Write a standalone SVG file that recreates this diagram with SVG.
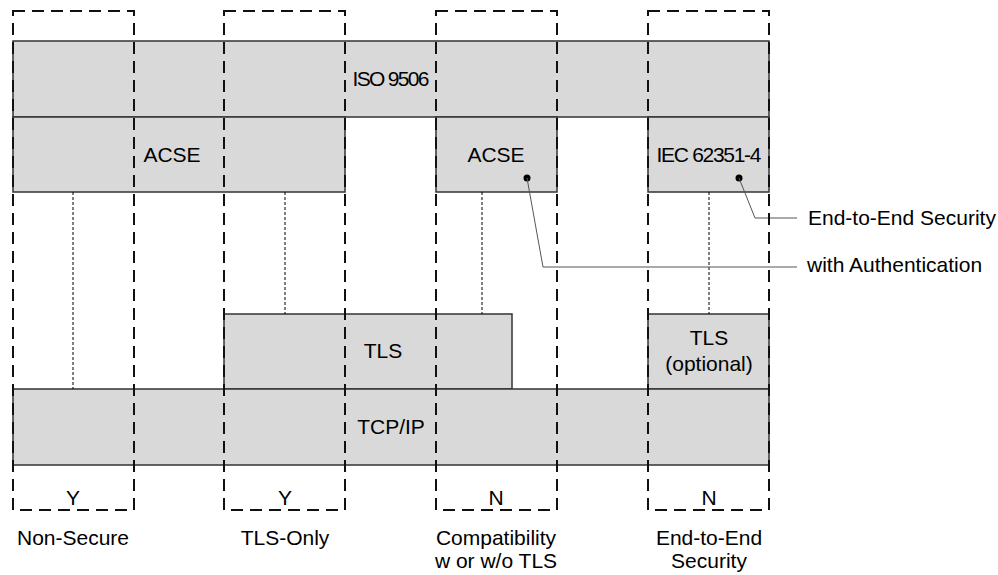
<svg xmlns="http://www.w3.org/2000/svg" width="998" height="575" viewBox="0 0 998 575">
<style>
  .box { fill: #d9d9d9; stroke: #333; stroke-width: 1.5; }
  .dash { fill: none; stroke: #111; stroke-width: 2; stroke-dasharray: 12 7; }
  .dot { fill: none; stroke: #000; stroke-width: 1; stroke-dasharray: 3 2; }
  .lead { fill: none; stroke: #555; stroke-width: 1; }
  text { font-family: "Liberation Sans", Arial, sans-serif; font-size: 21px; fill: #000; text-anchor: middle; }
  .l { text-anchor: start; }
</style>
<rect width="998" height="575" fill="#fff"/>
<g id="iso9506"><rect class="box" x="13" y="41" width="756" height="76"/><text x="391" y="86" textLength="77" lengthAdjust="spacing">ISO 9506</text></g>
<g id="acse1"><rect class="box" x="13" y="117" width="332" height="75"/><text x="172" y="162">ACSE</text></g>
<g id="acse2"><rect class="box" x="436" y="117" width="121" height="75"/><text x="496" y="162">ACSE</text><circle cx="527" cy="178" r="3.5" fill="#000"/></g>
<g id="iec62351"><rect class="box" x="648" y="117" width="121" height="75"/><text x="709" y="162" textLength="105" lengthAdjust="spacing">IEC 62351-4</text><circle cx="739" cy="178" r="3.5" fill="#000"/></g>
<g id="tls"><rect class="box" x="224" y="314" width="288" height="75"/><text x="383" y="358">TLS</text></g>
<g id="tlsopt"><rect class="box" x="648" y="314" width="121" height="75"/><text x="709" y="345">TLS</text><text x="709" y="371">(optional)</text></g>
<g id="tcpip"><rect class="box" x="13" y="389" width="756" height="76"/><text x="391" y="434">TCP/IP</text></g>
<g id="connectors">
  <line class="dot" x1="73" y1="192" x2="73" y2="389"/>
  <line class="dot" x1="285" y1="192" x2="285" y2="314"/>
  <line class="dot" x1="482" y1="192" x2="482" y2="314"/>
  <line class="dot" x1="709" y1="192" x2="709" y2="314"/>
  <polyline class="lead" points="739,178 755,218 797,218"/>
  <polyline class="lead" points="527,178 543,267 797,267"/>
</g>
<g id="nonsecure"><rect class="dash" x="13" y="11" width="121" height="499"/><text x="73" y="505">Y</text><text x="73" y="545">Non-Secure</text></g>
<g id="tlsonly"><rect class="dash" x="224" y="11" width="121" height="499"/><text x="285" y="505">Y</text><text x="285" y="545">TLS-Only</text></g>
<g id="compat"><rect class="dash" x="436" y="11" width="121" height="499"/><text x="496" y="505">N</text><text x="496" y="545">Compatibility</text><text x="496" y="568">w or w/o TLS</text></g>
<g id="e2e"><rect class="dash" x="648" y="11" width="121" height="499"/><text x="709" y="505">N</text><text x="709" y="545">End-to-End</text><text x="709" y="568">Security</text></g>
<g id="labels"><text class="l" x="808" y="225">End-to-End Security</text><text class="l" x="807" y="272">with Authentication</text></g>
</svg>
